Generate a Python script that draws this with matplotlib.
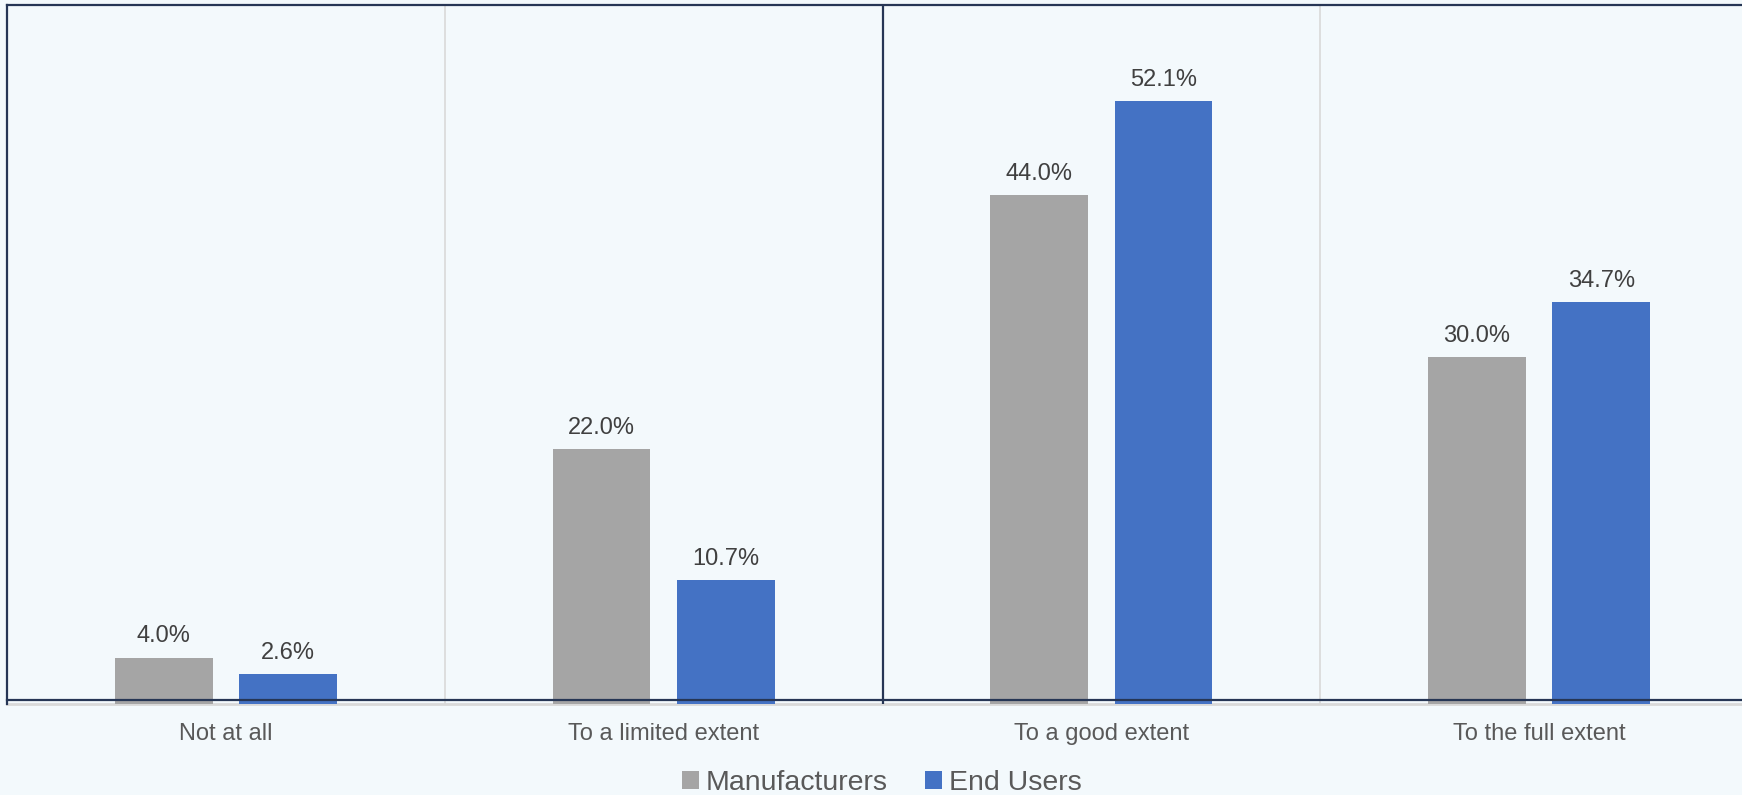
import matplotlib.pyplot as plt
import numpy as np

categories = ["Not at all", "To a limited extent", "To a good extent", "To the full extent"]
manufacturers = [4.0, 22.0, 44.0, 30.0]
end_users = [2.6, 10.7, 52.1, 34.7]
series_names = ["Manufacturers", "End Users"]

grey = "#A5A5A5"
blue = "#4472C4"
frame = "#263655"
text_col = "#595959"

plt.rcParams["font.family"] = ["Liberation Sans", "DejaVu Sans"]

fig = plt.figure(figsize=(17.42, 7.95), dpi=100, facecolor="#F3F9FC")
# plot area runs a little past the right edge of the figure
ax = fig.add_axes([7 / 1742, 91 / 795, 1751 / 1742, 699 / 795])
ax.set_facecolor("none")

x = np.arange(len(categories))
w = 0.223
off = 0.142
b1 = ax.bar(x - off, manufacturers, w, color=grey, label=series_names[0], zorder=2)
b2 = ax.bar(x + off, end_users, w, color=blue, label=series_names[1], zorder=2)

for bars, vals in [(b1, manufacturers), (b2, end_users)]:
    for rect, v in zip(bars, vals):
        ax.annotate(f"{v:.1f}%", (rect.get_x() + rect.get_width() / 2, v),
                    xytext=(0, 11), textcoords="offset points",
                    ha="center", va="baseline", fontsize=17, color="#404040")

ax.set_xlim(-0.5, len(categories) - 0.5)
ax.set_ylim(0, 60.4)

# light separators between categories, dark one in the middle
for b in [0.5, 2.5]:
    ax.axvline(b, color="#D9D9D9", lw=1.2, zorder=1)
ax.axvline(1.5, color=frame, lw=1.6, zorder=3)

ax.set_xticks(x)
ax.set_xticklabels(categories, fontsize=17, color=text_col)
ax.tick_params(axis="x", length=0, pad=14)
ax.set_yticks([])

for s in ["left", "top"]:
    ax.spines[s].set_color(frame)
    ax.spines[s].set_linewidth(1.6)
ax.spines["right"].set_visible(False)
ax.spines["bottom"].set_color("#D9D9D9")
ax.spines["bottom"].set_linewidth(2)
ax.spines["bottom"].set_zorder(1)
# dark frame line sits just above the category axis
ax.plot([0, 1], [0.0057, 0.0057], transform=ax.transAxes, color=frame,
        lw=1.6, zorder=5, clip_on=False)

fig.legend(handles=[b1, b2], labels=series_names, loc="center",
           bbox_to_anchor=(882 / 1742, 12 / 795), ncol=2, frameon=False,
           fontsize=20.5, labelcolor=text_col, handlelength=0.6,
           handleheight=0.6, handletextpad=0.25, columnspacing=1.3)

fig.savefig("out.png", dpi=100, facecolor=fig.get_facecolor())
